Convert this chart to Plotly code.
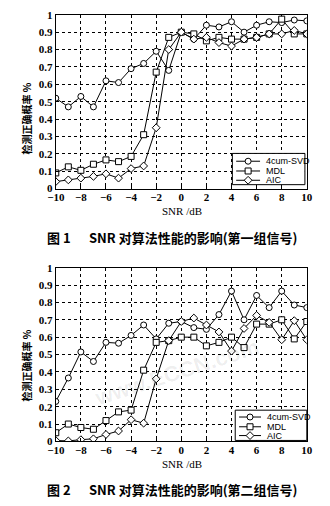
import plotly.graph_objects as go

# SNR sweep (dB)
snr = list(range(-10, 11))

# Group 1 detection probability
svd_1 = [0.52, 0.47, 0.53, 0.47, 0.62, 0.61, 0.69, 0.72, 0.79, 0.68, 0.90,
         0.86, 0.94, 0.93, 0.96, 0.90, 0.94, 0.96, 0.955, 0.97, 0.965]
mdl_1 = [0.09, 0.125, 0.105, 0.14, 0.165, 0.155, 0.185, 0.31, 0.67, 0.87, 0.90,
         0.89, 0.85, 0.87, 0.86, 0.86, 0.87, 0.89, 0.975, 0.89, 0.89]
aic_1 = [0.04, 0.05, 0.06, 0.07, 0.085, 0.06, 0.115, 0.13, 0.35, 0.80, 0.90,
         0.86, 0.87, 0.84, 0.82, 0.86, 0.87, 0.89, 0.89, 0.91, 0.89]

# Group 2 detection probability
svd_2 = [0.23, 0.365, 0.515, 0.46, 0.57, 0.565, 0.61, 0.67, 0.59, 0.68, 0.69,
         0.655, 0.645, 0.73, 0.865, 0.70, 0.84, 0.77, 0.865, 0.785, 0.77]
mdl_2 = [0.05, 0.10, 0.08, 0.07, 0.12, 0.17, 0.18, 0.41, 0.57, 0.58, 0.60,
         0.60, 0.55, 0.57, 0.60, 0.54, 0.675, 0.675, 0.70, 0.59, 0.69]
aic_2 = [0.005, 0.003, 0.01, 0.015, 0.04, 0.06, 0.125, 0.105, 0.36, 0.58, 0.69,
         0.71, 0.67, 0.63, 0.52, 0.65, 0.725, 0.685, 0.585, 0.695, 0.585]

series_names = ["4cum-SVD", "MDL", "AIC"]
symbols = ["circle", "square", "diamond"]
x_ticks = list(range(-10, 11, 2))

caption_tail = ["SNR 对算法性能的影响(第一组信号)", "SNR 对算法性能的影响(第二组信号)"]
y_title = "检测正确概率 %"
x_title = "SNR /dB"

W, H = 330, 506


def px_x(p):
    return p / W


def px_y(p):
    return 1 - p / H


fig = go.Figure()

groups = [(svd_1, mdl_1, aic_1), (svd_2, mdl_2, aic_2)]
for gi, group in enumerate(groups):
    xa = "x" if gi == 0 else "x2"
    ya = "y" if gi == 0 else "y2"
    for name, sym, vals in zip(series_names, symbols, group):
        fig.add_trace(go.Scatter(
            x=snr, y=vals, name=name, mode="lines+markers",
            xaxis=xa, yaxis=ya, showlegend=False,
            line=dict(color="black", width=1),
            marker=dict(symbol=sym, size=6, color="white",
                        line=dict(color="black", width=1)),
        ))

# Compact legend boxes drawn on a full-page pixel overlay (x3/y3)
legend_boxes = [
    dict(x0=234, x1=310, y0=151, y1=183, rows=[159, 169, 178.5], lx=(238, 263), tx=267),
    dict(x0=237, x1=312, y0=414, y1=445, rows=[421, 431, 440], lx=(241, 264), tx=268),
]
shapes = []
annotations = []
for box in legend_boxes:
    shapes.append(dict(type="rect", xref="x3", yref="y3", layer="below",
                       x0=box["x0"], x1=box["x1"], y0=box["y0"], y1=box["y1"],
                       fillcolor="white", line=dict(color="black", width=1)))
    for name, sym, ry in zip(series_names, symbols, box["rows"]):
        a, b = box["lx"]
        fig.add_trace(go.Scatter(
            x=[a, (a + b) / 2, b], y=[ry, ry, ry], mode="lines",
            xaxis="x3", yaxis="y3", showlegend=False, hoverinfo="skip",
            line=dict(color="black", width=1)))
        fig.add_trace(go.Scatter(
            x=[(a + b) / 2], y=[ry], mode="markers",
            xaxis="x3", yaxis="y3", showlegend=False, hoverinfo="skip",
            marker=dict(symbol=sym, size=6, color="white",
                        line=dict(color="black", width=1))))
        annotations.append(dict(
            text=name, x=box["tx"], y=ry, xref="x3", yref="y3",
            xanchor="left", yanchor="middle", showarrow=False,
            font=dict(family="Liberation Sans", size=9, color="black")))

x_dom = [px_x(49), px_x(312)]
tick_font = dict(family="Liberation Serif", size=11, color="black", weight="bold")
axis_common = dict(
    showline=True, linecolor="black", linewidth=1, mirror=True,
    showgrid=True, gridcolor="black", griddash="dot", gridwidth=1,
    ticks="inside", ticklen=3, tickcolor="black",
    tickfont=tick_font, zeroline=False,
)

fig.update_layout(
    width=W, height=H,
    margin=dict(l=0, r=0, t=0, b=0),
    paper_bgcolor="white", plot_bgcolor="rgba(0,0,0,0)",
    showlegend=False,
    xaxis=dict(domain=x_dom, anchor="y", range=[-10, 10],
               tickvals=x_ticks, ticklabelstandoff=-2, **axis_common),
    yaxis=dict(domain=[px_y(187), px_y(9)], anchor="x", range=[0, 1],
               dtick=0.1, **axis_common),
    xaxis2=dict(domain=x_dom, anchor="y2", range=[-10, 10],
                tickvals=x_ticks, ticklabelstandoff=-2, **axis_common),
    yaxis2=dict(domain=[px_y(446), px_y(268)], anchor="x2", range=[0, 1],
                dtick=0.1, **axis_common),
    xaxis3=dict(domain=[0, 1], anchor="y3", range=[0, W], visible=False,
                fixedrange=True),
    yaxis3=dict(domain=[0, 1], anchor="x3", range=[H, 0], visible=False,
                fixedrange=True),
)

for cy, ty in [(115, 210), (368, 469)]:
    annotations.append(dict(
        text=y_title, x=px_x(18), y=px_y(cy), xref="paper", yref="paper",
        xanchor="center", yanchor="middle",
        textangle=-90, showarrow=False,
        font=dict(family="Noto Sans CJK SC", size=10, color="black", weight="bold")))
    annotations.append(dict(
        text=x_title, x=px_x(181), y=px_y(ty), xref="paper", yref="paper",
        xanchor="center", yanchor="middle", showarrow=False,
        font=dict(family="Liberation Serif", size=11, color="black")))

for num, tail, capy in [("1", caption_tail[0], 237), ("2", caption_tail[1], 495)]:
    annotations.append(dict(
        text="图 " + num, x=px_x(38), y=px_y(capy), xref="paper", yref="paper",
        xanchor="left", yanchor="middle", showarrow=False,
        font=dict(family="Noto Sans CJK SC", size=13, color="black", weight="bold")))
    annotations.append(dict(
        text=tail, x=px_x(82), y=px_y(capy), xref="paper", yref="paper",
        xanchor="left", yanchor="middle", showarrow=False,
        font=dict(family="Noto Sans CJK SC", size=13, color="black", weight="bold")))

# faint site watermark across the lower plot
annotations.append(dict(
    text="www.ECCN.com", x=px_x(175), y=px_y(375), xref="paper", yref="paper",
    xanchor="center", yanchor="middle",
    textangle=-18, showarrow=False,
    font=dict(family="Liberation Sans", size=22, color="rgba(0,0,0,0.07)", weight="bold")))

fig.update_layout(shapes=shapes, annotations=annotations)

fig.write_html("out.html")
